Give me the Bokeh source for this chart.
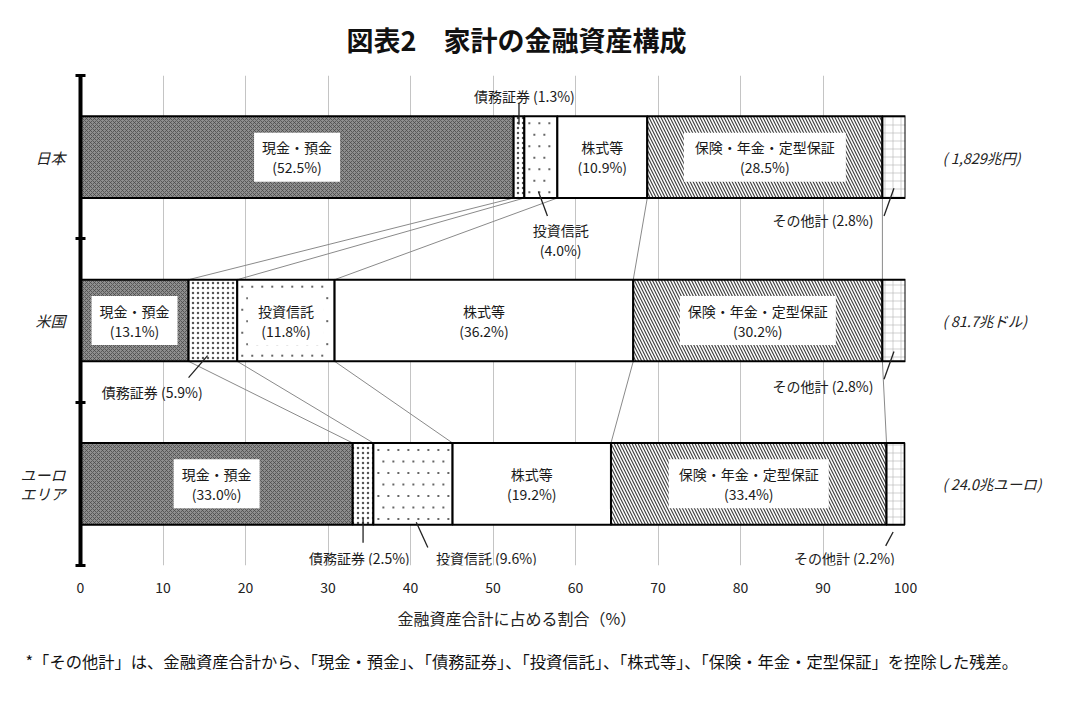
from bokeh.plotting import figure
from bokeh.models import (ColumnDataSource, Range1d, FixedTicker, LinearAxis, Title,
                          CustomJSTickFormatter)
from bokeh.core.properties import value
from bokeh.embed import file_html
from bokeh.resources import INLINE

# ---------------- data ----------------
regions = ["日本", "米国", "ユーロ\nエリア"]
totals = ["( 1,829兆円)", "( 81.7兆ドル)", "( 24.0兆ユーロ)"]
categories = ["現金・預金", "債務証券", "投資信託", "株式等", "保険・年金・定型保証", "その他計"]
japan = [52.5, 1.3, 4.0, 10.9, 28.5, 2.8]
usa = [13.1, 5.9, 11.8, 36.2, 30.2, 2.8]
euro = [33.0, 2.5, 9.6, 19.2, 33.4, 2.2]
x_ticks = [0, 10, 20, 30, 40, 50, 60, 70, 80, 90, 100]
title_text = "図表2　家計の金融資産構成"
x_label = "金融資産合計に占める割合（%）"
footnote = "*「その他計」は、金融資産合計から、「現金・預金」、「債務証券」、「投資信託」、「株式等」、「保険・年金・定型保証」を控除した残差。"

FONT = "Noto Sans CJK JP"
series = [japan, usa, euro]
y_pos = [2.5, 1.5, 0.5]
BAR_H = 0.5
PX_X = 825 / 100.0   # pixels per x unit (frame width / range)
PX_Y = 490 / 3.0     # pixels per y unit

cum = []
for vals in series:
    s = [0.0]
    for v in vals:
        s.append(s[-1] + v)
    cum.append(s)

def pct(v):
    return f"({v:.1f}%)"

p = figure(width=1064, height=690, output_backend="svg", toolbar_location=None,
           x_range=Range1d(0, 100), y_range=Range1d(0, 3),
           min_border_left=80, min_border_right=159, min_border_top=75, min_border_bottom=125)
p.outline_line_color = None
p.background_fill_color = "white"
p.border_fill_color = "white"

# title
p.title.text = title_text
p.title.align = "left"
p.title.offset = 266
p.title.text_font = FONT
p.title.text_font_style = "bold"
p.title.text_font_size = "27px"
p.title.text_color = "#111111"
p.title.standoff = 33

# grid
p.xgrid.ticker = FixedTicker(ticks=x_ticks)
p.xgrid.grid_line_color = "#c4c4c4"
p.xgrid.grid_line_width = 1
p.ygrid.grid_line_color = None

# x axis
p.xaxis.ticker = FixedTicker(ticks=x_ticks)
p.xaxis.axis_line_color = None
p.xaxis.major_tick_line_color = None
p.xaxis.minor_tick_line_color = None
p.xaxis.major_label_text_font = FONT
p.xaxis.major_label_text_font_size = "14px"
p.xaxis.major_label_text_color = "#222222"
p.xaxis.major_label_standoff = 10

# y axis (thick line with separators)
p.yaxis.ticker = FixedTicker(ticks=[0, 1, 2, 3])
p.yaxis.formatter = CustomJSTickFormatter(code="return ''")
p.yaxis.axis_line_width = 4
p.yaxis.axis_line_color = "black"
p.yaxis.major_tick_in = 5
p.yaxis.major_tick_out = 5
p.yaxis.major_tick_line_width = 3
p.yaxis.minor_tick_line_color = None
p.yaxis.major_label_standoff = 0

cat_axis = LinearAxis(ticker=FixedTicker(ticks=y_pos),
                      major_label_overrides={y_pos[i]: regions[i] for i in range(3)})
cat_axis.axis_line_color = None
cat_axis.major_tick_line_color = None
cat_axis.minor_tick_line_color = None
cat_axis.major_label_text_font = FONT
cat_axis.major_label_text_font_style = "italic"
cat_axis.major_label_text_font_size = "15px"
cat_axis.major_label_text_color = "#222222"
cat_axis.major_label_text_line_height = 0.9
cat_axis.major_label_standoff = 4
p.add_layout(cat_axis, "left")

# totals on the right (axis labels)
tot_axis = LinearAxis(ticker=FixedTicker(ticks=y_pos),
                      major_label_overrides={y_pos[i]: totals[i] for i in range(3)})
tot_axis.axis_line_color = None
tot_axis.major_tick_line_color = None
tot_axis.minor_tick_line_color = None
tot_axis.major_label_text_font = FONT
tot_axis.major_label_text_font_style = "italic"
tot_axis.major_label_text_font_size = "14.5px"
tot_axis.major_label_text_color = "#222222"
tot_axis.major_label_standoff = 31
p.add_layout(tot_axis, "right")

# axis title and footnote as titles below
p.add_layout(Title(text=x_label, align="left", offset=317, text_font=FONT, text_font_size="16px",
                   text_font_style="normal", text_color="#222222", standoff=16), "below")
p.add_layout(Title(text=footnote, align="left", offset=-55, text_font=FONT, text_font_size="16.3px",
                   text_font_style="normal", text_color="#111111", standoff=18), "below")

# connector lines between bars
x0, y0, x1, y1 = [], [], [], []
for r in range(2):
    for k in range(1, 6):
        x0.append(cum[r][k]); y0.append(y_pos[r] - BAR_H / 2)
        x1.append(cum[r + 1][k]); y1.append(y_pos[r + 1] + BAR_H / 2)
p.segment(x0=x0, y0=y0, x1=x1, y1=y1, line_color="#8a8a8a", line_width=1)

# bars
styles = [
    dict(fill_color="#8e8e8e", hatch_pattern="diagonal_cross", hatch_scale=4, hatch_color="#4a4a4a", hatch_weight=0.8),
    dict(fill_color="white", hatch_pattern="dot", hatch_scale=5, hatch_color="#555555", hatch_weight=1),
    dict(fill_color="white"),
    dict(fill_color="white"),
    dict(fill_color="white", hatch_pattern="left_diagonal_line", hatch_scale=6, hatch_color="#444444", hatch_weight=1.2),
    dict(fill_color="white", hatch_pattern="cross", hatch_scale=8, hatch_color="#b0b0b0", hatch_weight=0.6),
]
for i, cat in enumerate(categories):
    src = ColumnDataSource(dict(y=y_pos,
                                left=[cum[r][i] for r in range(3)],
                                right=[cum[r][i + 1] for r in range(3)]))
    p.hbar(y="y", left="left", right="right", height=BAR_H, source=src,
           line_color="black", line_width=2, **styles[i])

# sparse dot texture for the 投資信託 segments (derived from each segment's extent)
tdx, tdy = [], []
step_x = 10 / PX_X
for r in range(3):
    left, right = cum[r][2], cum[r][3]
    top = y_pos[r] + BAR_H / 2
    for j in range(7):
        yy = top - (7 + 11.5 * j) / PX_Y
        xx = left + (5 if j % 2 == 0 else 10) / PX_X
        while xx < right - 3 / PX_X:
            tdx.append(xx); tdy.append(yy)
            xx += step_x
p.scatter(x=tdx, y=tdy, marker="square", size=2, fill_color="#666666", line_color=None)

# inner labels: (region, category index, box width px or None)
inner = [(0, 0, 86), (0, 3, None), (0, 4, 162),
         (1, 0, 86), (1, 2, 76), (1, 3, None), (1, 4, 156),
         (2, 0, 86), (2, 3, None), (2, 4, 160)]
bx, by, bw, tx, ty, tt = [], [], [], [], [], []
for r, c, w in inner:
    cx = (cum[r][c] + cum[r][c + 1]) / 2
    if w:
        bx.append(cx); by.append(y_pos[r]); bw.append(w)
    tx.append(cx); ty.append(y_pos[r]); tt.append(categories[c] + "\n" + pct(series[r][c]))
p.rect(x=bx, y=by, width=bw, height=[49] * len(bx), width_units="screen", height_units="screen",
       fill_color="white", line_color=None)
p.text(x=tx, y=ty, text=tt, text_align="center", text_baseline="middle",
       text_font=value(FONT), text_font_size="14px", text_line_height=1.0, text_color="#1a1a1a")

# outside labels with leader lines: (region, cat, text x, text y, leader x0,y0,x1,y1, two_lines)
outside = [
    (0, 1, 53.8, 2.875, 53.15, 2.83, 53.15, 2.70, False),
    (0, 2, 58.2, 1.99, 55.5, 2.29, 56.6, 2.14, True),
    (0, 5, 90.0, 2.115, 98.6, 2.31, 97.4, 2.14, False),
    (1, 1, 8.7, 1.065, 15.4, 1.285, 13.1, 1.15, False),
    (1, 5, 90.0, 1.10, 98.6, 1.31, 97.4, 1.14, False),
    (2, 1, 33.8, 0.045, 34.25, 0.29, 34.25, 0.14, False),
    (2, 2, 49.2, 0.045, 40.7, 0.265, 42.1, 0.11, False),
    (2, 5, 92.6, 0.045, 98.5, 0.205, 97.6, 0.12, False),
]
ox, oy, ot = [], [], []
lx0, ly0, lx1, ly1 = [], [], [], []
for r, c, x, y, a0, b0, a1, b1, two in outside:
    sep = "\n" if two else " "
    ox.append(x); oy.append(y); ot.append(categories[c] + sep + pct(series[r][c]))
    lx0.append(a0); ly0.append(b0); lx1.append(a1); ly1.append(b1)
p.segment(x0=lx0, y0=ly0, x1=lx1, y1=ly1, line_color="#222222", line_width=1.3)
p.text(x=ox, y=oy, text=ot, text_align="center", text_baseline="middle",
       text_font=value(FONT), text_font_size="14px", text_line_height=1.0, text_color="#1a1a1a")

open("out.html", "w").write(file_html(p, INLINE))
